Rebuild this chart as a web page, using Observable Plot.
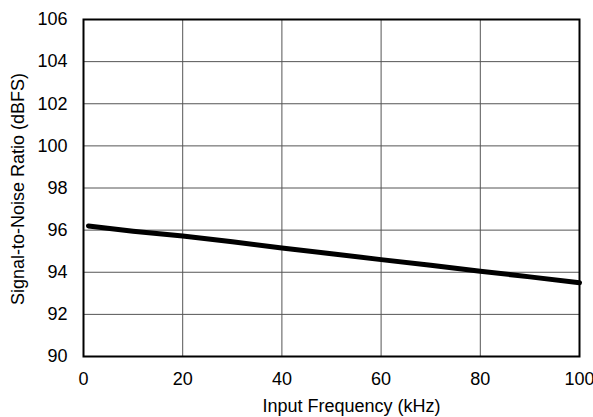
<!DOCTYPE html>
<html><head><meta charset="utf-8">
<script src="https://cdn.jsdelivr.net/npm/d3@7"></script>
<script src="https://cdn.jsdelivr.net/npm/@observablehq/plot@0.6"></script>
<style>body{margin:0;background:#fff;} svg{font-family:"Liberation Sans",Arial,sans-serif;}</style>
</head><body><div id="chart"></div>
<script>
const freqKHz = [1, 10, 20, 30, 40, 50, 60, 70, 80, 90, 100];
const snrDBFS = [96.2, 95.95, 95.72, 95.45, 95.15, 94.88, 94.6, 94.33, 94.05, 93.78, 93.5];
const xTicks = [0, 20, 40, 60, 80, 100];
const yTicks = [90, 92, 94, 96, 98, 100, 102, 104, 106];
const xLabel = "Input Frequency (kHz)";
const yLabel = "Signal-to-Noise Ratio (dBFS)";
const data = freqKHz.map((f, i) => ({f, v: snrDBFS[i]}));

const chart = Plot.plot({
  width: 593, height: 417,
  marginLeft: 83, marginRight: 14, marginTop: 19, marginBottom: 61,
  style: {fontFamily: "Liberation Sans, Arial, sans-serif", fontSize: "18px", color: "black", background: "white", overflow: "visible"},
  x: {domain: [0, 100], ticks: xTicks},
  y: {domain: [90, 106], ticks: yTicks},
  marks: [
    Plot.gridX(xTicks, {stroke: "#555", strokeOpacity: 1, strokeWidth: 1}),
    Plot.gridY(yTicks, {stroke: "#555", strokeOpacity: 1, strokeWidth: 1}),
    Plot.line(data, {x: "f", y: "v", stroke: "black", strokeWidth: 5}),
    Plot.frame({stroke: "black", strokeWidth: 2}),
    Plot.axisX(xTicks, {tickSize: 0, tickPadding: 16, fontSize: 18, label: null}),
    Plot.axisY(yTicks, {tickSize: 0, tickPadding: 16, fontSize: 18, label: null}),
    Plot.text([xLabel], {text: d => d, frameAnchor: "bottom", textAnchor: "start", lineAnchor: "middle", dx: -69, dy: 49.5, fontSize: 18, fill: "black"}),
    Plot.text([yLabel], {text: d => d, frameAnchor: "left", textAnchor: "middle", lineAnchor: "middle", rotate: -90, dx: -65.5, dy: 1, fontSize: 18, fill: "black"})
  ]
});
document.getElementById("chart").appendChild(chart);
</script></body></html>
